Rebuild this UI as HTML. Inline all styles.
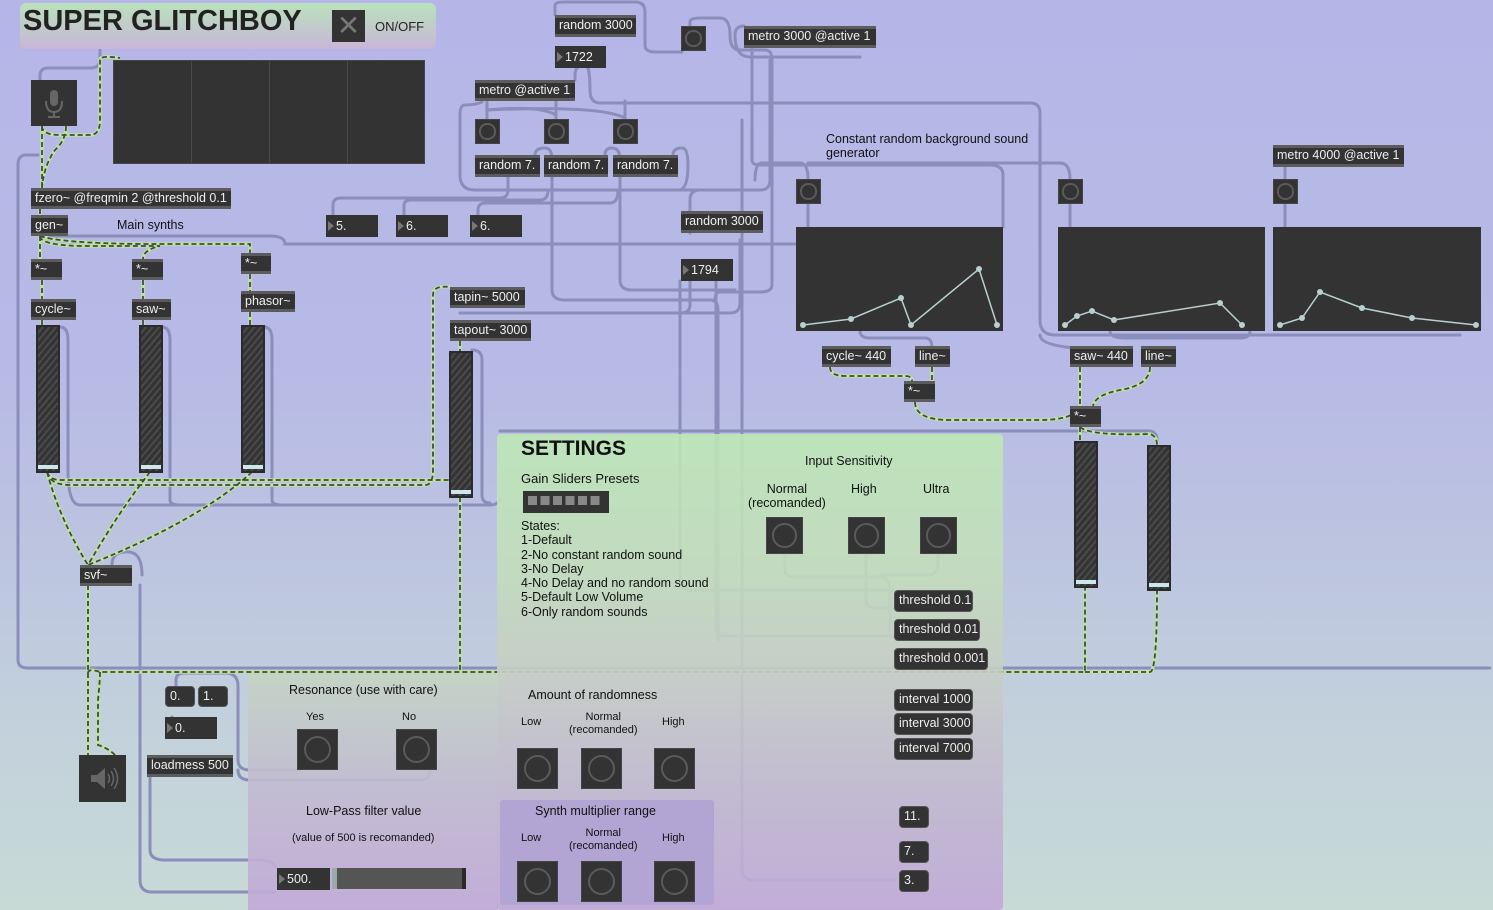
<!DOCTYPE html>
<html><head><meta charset="utf-8"><style>
*{margin:0;padding:0;box-sizing:border-box}
body{width:1493px;height:910px;overflow:hidden;position:relative;font-family:"Liberation Sans",sans-serif;
background:linear-gradient(to bottom,#b5b6e7 0%,#b7bae6 40%,#bcc4e0 60%,#c2d0dc 78%,#c7dad6 100%)}
.a{position:absolute}
.o{position:absolute;background:#333;color:#eee;font-size:12.5px;line-height:15px;border-top:3px solid #5c5c5c;border-bottom:3px solid #5c5c5c;padding-left:4px;white-space:nowrap}
.m{position:absolute;background:#333;color:#eee;font-size:12.5px;border-radius:4px;border:1px solid #555;padding-left:4px;white-space:nowrap;line-height:19px}
.n{position:absolute;background:#333;color:#eee;font-size:12.5px;padding-left:2px;white-space:nowrap;line-height:22px}
.n:before{content:"";display:inline-block;width:0;height:0;border-left:6px solid #777;border-top:5px solid transparent;border-bottom:5px solid transparent;margin-right:2px;vertical-align:-1px}
.b{position:absolute;background:#333;border:1px solid #444}
.b:after{content:"";position:absolute;left:15%;top:15%;width:70%;height:70%;border-radius:50%;border:2px solid #5a5a5a;box-sizing:border-box}
.s{position:absolute;border:2px solid #2b2b2b;background:repeating-linear-gradient(-50deg,#333 0 3px,#4a4a4a 3px 5px)}
.s:after{content:"";position:absolute;left:0;right:0;bottom:2px;height:4px;background:#cde8ea}
.t{position:absolute;color:#111;font-size:12.5px;white-space:nowrap}
.g{position:absolute;background:#333}
</style></head><body>

<svg class="a" style="left:0;top:0" width="1493" height="910">
<g fill="none" stroke="#8b8eba" stroke-width="3" stroke-linecap="round">
<path d="M100,50 V60 Q100,68 90,68 H48 Q40,68 40,76 V80"/>
<path d="M38,155 H26 Q18,155 18,165 V660 Q18,668 28,668 H1490"/>
<path d="M40,236 H270 Q285,236 285,244 H1000"/>
<path d="M333,215 V205 Q333,198 341,198 H500 Q508,198 508,190 V176"/>
<path d="M404,215 V205 Q404,200 412,200 H540 Q548,200 548,190"/>
<path d="M478,215 V210 Q478,203 486,203 H610 Q618,203 618,190"/>
<path d="M60,327 Q68,327 68,340 V470 Q68,505 80,505 H490 Q497,505 500,500"/>
<path d="M162,327 Q170,327 170,340 V500 Q170,505 180,505"/>
<path d="M264,327 Q272,327 272,340 V500 Q272,505 282,505"/>
<path d="M472,350 Q482,350 482,360 V495 Q482,503 490,503"/>
<path d="M460,313 H730 Q740,313 740,303 V240"/>
<path d="M575,80 V75 Q575,65 585,65 Q590,65 590,90 Q590,103 600,103 H1030 Q1040,103 1040,113 V320 Q1040,335 1055,335 H1460"/>
<path d="M555,15 V5 Q555,2 565,2 H635 Q645,2 645,12 V45 Q645,52 655,52 H682"/>
<path d="M690,26 V22 Q690,18 700,18 H720 Q730,18 730,35 Q730,50 740,50 H765 Q772,50 772,60 V285 Q772,292 760,292 H720 Q715,292 715,300"/>
<path d="M744,26 Q735,26 735,35 Q735,57 750,57 H860"/>
<path d="M752,48 V160 Q752,165 760,165 H990 Q1003,165 1003,175 V227"/>
<path d="M482,102 Q475,105 465,105 Q460,105 460,115 V175 Q460,190 475,190 H760 Q770,190 770,180 V60"/>
<path d="M487,101 V119"/><path d="M556,101 V119"/><path d="M625,101 V119"/>
<path d="M487,110 Q540,105 556,115"/><path d="M487,110 Q600,105 625,118"/>
<path d="M535,155 Q535,148 545,148 Q552,148 552,160 V290 Q552,300 565,300 H710 Q718,300 718,310 V640"/>
<path d="M605,155 Q605,148 612,148 Q620,148 620,160 V280 Q620,290 632,290 H735"/>
<path d="M673,155 Q673,148 682,148 Q688,148 688,165 Q688,188 680,190"/>
<path d="M690,233 V200 Q690,190 700,190"/>
<path d="M690,281 V305 Q690,313 680,313"/>
<path d="M680,281 V580 Q680,590 690,590 H894"/>
<path d="M716,281 V628 Q716,636 726,636 H894"/>
<path d="M742,120 V870 Q742,880 755,880 H894"/>
<path d="M755,180 Q755,163 762,163 H800 Q808,163 808,179"/>
<path d="M808,163 H1060 Q1070,163 1070,179"/>
<path d="M808,204 V227"/><path d="M1070,204 V227"/><path d="M1285,167 V227"/>
<path d="M860,331 Q860,338 870,338 H925 Q932,338 932,348"/>
<path d="M1110,331 Q1110,338 1125,338 H1240 Q1250,338 1250,331"/>
<path d="M1040,335 Q1040,345 1075,348"/>
<path d="M500,431 H1148 Q1157,431 1157,440"/>
<path d="M785,553 V570 Q785,577 795,577 H880 Q890,577 890,590 V630"/>
<path d="M866,553 V600 Q866,608 876,608 H894"/>
<path d="M938,553 V565 Q938,575 928,575 H880"/>
<path d="M150,777 V850 Q150,860 165,860 H260 Q275,860 275,868"/>
<path d="M142,575 Q142,550 125,552 Q112,552 112,565"/>
<path d="M140,585 V880 Q140,892 152,892 H275"/>
<path d="M176,686 V680 Q176,673 185,673 H225 Q238,673 238,686 V760 Q238,770 250,770 H300"/>
<path d="M172,717 Q172,730 185,730 H205"/>
<path d="M238,770 Q238,780 250,780 H420 Q430,780 430,770"/>
</g>
<g fill="none" stroke-linecap="butt">
<g stroke="#bfe39a" stroke-width="3.5">
<path id="d1" d="M42,126 V188 M66,126 Q66,140 55,150 Q44,165 42,188 M42,126 Q42,135 60,135 H90 Q100,135 100,120 V60 Q100,55 120,58 M40,209 V215 M40,236 V259 M40,236 Q40,245 80,246 H160 Q143,250 143,259 M40,236 Q60,243 140,244 H250 V253 M42,280 V299 M143,280 V299 M250,274 V291 M42,320 V325 M143,320 V325 M250,312 V325 M47,472 Q50,485 70,485 H425 Q433,485 433,470 V295 Q433,285 450,287 M47,472 Q60,520 88,565 M150,472 Q120,510 88,565 M252,472 Q200,520 88,565 M47,472 Q50,480 60,480 H470 M460,341 V351 M460,497 V673 M88,585 V755 M88,673 Q88,668 100,672 H1085 V587 M100,672 Q100,680 98,700 V745 Q108,748 115,755 M1085,672 H1150 Q1157,672 1157,590 M830,367 Q830,376 845,376 H905 Q912,376 912,381 M932,367 V381 M915,402 Q915,420 950,420 H1040 Q1075,420 1080,406 M1080,367 V406 M1150,367 Q1150,385 1120,390 Q1095,395 1093,406 M1080,427 V440 M1080,427 Q1090,436 1150,434 Q1157,436 1157,445"/>
</g>
<g stroke="#3d4a4a" stroke-width="1.8" stroke-dasharray="5 3">
<use href="#d1"/>
</g>
</g>
</svg>

<!-- panels -->
<div class="a" style="left:20px;top:3px;width:416px;height:46px;border-radius:6px;background:linear-gradient(#b9e2bb,#c9b6d8)"></div>
<div class="a" style="left:497px;top:434px;width:506px;height:476px;border-radius:4px;opacity:.9;background:linear-gradient(#bde8b6 0%,#c3dcbc 30%,#c7ccc6 52%,#c2b8d0 75%,#c1a8d8 100%)"></div>
<div class="a" style="left:248px;top:674px;width:250px;height:236px;opacity:.9;background:linear-gradient(#c4d4c4 0%,#c2bcd0 45%,#c1a8d8 100%)"></div>
<div class="a" style="left:500px;top:800px;width:214px;height:105px;border-radius:3px;background:#b0a3d4;opacity:.9"></div>

<!-- title -->
<div class="t" style="left:23px;top:5px;font-size:29px;font-weight:bold;color:#222">SUPER GLITCHBOY</div>
<div class="g" style="left:332px;top:10px;width:33px;height:32px;color:#777;font-size:28px;text-align:center;line-height:31px">✕</div>
<div class="t" style="left:375px;top:19px;font-size:13px;color:#222">ON/OFF</div>

<div class="g" style="left:31px;top:80px;width:46px;height:46px"><svg width="46" height="46"><g fill="#666"><rect x="19" y="10" width="8" height="16" rx="4"/><path d="M15,21 Q15,32 23,32 Q31,32 31,21" fill="none" stroke="#666" stroke-width="2"/><rect x="22" y="32" width="2" height="4"/><rect x="17" y="36" width="12" height="2"/></g></svg></div>
<div class="g" style="left:113px;top:60px;width:312px;height:104px;border:1px solid #444"><div class="a" style="left:77px;top:0;width:1px;height:102px;background:#4a4a4a"></div><div class="a" style="left:155px;top:0;width:1px;height:102px;background:#4a4a4a"></div><div class="a" style="left:233px;top:0;width:1px;height:102px;background:#4a4a4a"></div></div>

<div class="o" style="left:31px;top:188px;width:200px;height:21px">fzero~ @freqmin 2 @threshold 0.1</div>
<div class="o" style="left:31px;top:215px;width:37px;height:21px">gen~</div>
<div class="t" style="left:117px;top:218px">Main synths</div>
<div class="n" style="left:326px;top:215px;width:52px;height:22px">5.</div>
<div class="n" style="left:396px;top:215px;width:52px;height:22px">6.</div>
<div class="n" style="left:470px;top:215px;width:52px;height:22px">6.</div>
<div class="o" style="left:31px;top:259px;width:31px;height:21px">*~</div>
<div class="o" style="left:132px;top:259px;width:31px;height:21px">*~</div>
<div class="o" style="left:241px;top:253px;width:30px;height:21px">*~</div>
<div class="o" style="left:31px;top:299px;width:45px;height:21px">cycle~</div>
<div class="o" style="left:132px;top:299px;width:39px;height:21px">saw~</div>
<div class="o" style="left:241px;top:291px;width:54px;height:21px">phasor~</div>
<div class="s" style="left:36px;top:325px;width:24px;height:148px"></div>
<div class="s" style="left:139px;top:325px;width:24px;height:148px"></div>
<div class="s" style="left:241px;top:325px;width:24px;height:148px"></div>
<div class="o" style="left:450px;top:287px;width:75px;height:21px">tapin~ 5000</div>
<div class="o" style="left:450px;top:320px;width:81px;height:21px">tapout~ 3000</div>
<div class="s" style="left:449px;top:351px;width:24px;height:147px"></div>
<div class="o" style="left:80px;top:565px;width:52px;height:21px">svf~</div>

<div class="m" style="left:165px;top:686px;width:30px;height:21px">0.</div>
<div class="m" style="left:198px;top:686px;width:30px;height:21px">1.</div>
<div class="n" style="left:165px;top:717px;width:52px;height:22px">0.</div>
<div class="o" style="left:147px;top:755px;width:86px;height:22px">loadmess 500</div>
<div class="g" style="left:79px;top:755px;width:47px;height:47px"><svg width="47" height="47"><path d="M12,20 H18 L26,13 V34 L18,27 H12 Z" fill="#666"/><path d="M29,19 Q32,23.5 29,28 M32,16 Q37,23.5 32,31 M35,13 Q42,23.5 35,34" fill="none" stroke="#666" stroke-width="1.5"/></svg></div>

<!-- top middle -->
<div class="o" style="left:555px;top:15px;width:81px;height:22px">random 3000</div>
<div class="n" style="left:555px;top:46px;width:51px;height:22px">1722</div>
<div class="o" style="left:475px;top:80px;width:100px;height:21px">metro @active 1</div>
<div class="b" style="left:475px;top:119px;width:25px;height:25px"></div>
<div class="b" style="left:544px;top:119px;width:25px;height:25px"></div>
<div class="b" style="left:613px;top:119px;width:25px;height:25px"></div>
<div class="o" style="left:475px;top:155px;width:65px;height:22px">random 7.</div>
<div class="o" style="left:544px;top:155px;width:64px;height:22px">random 7.</div>
<div class="o" style="left:613px;top:155px;width:65px;height:22px">random 7.</div>
<div class="b" style="left:681px;top:26px;width:25px;height:25px"></div>
<div class="o" style="left:744px;top:26px;width:132px;height:22px">metro 3000 @active 1</div>
<div class="o" style="left:681px;top:211px;width:82px;height:22px">random 3000</div>
<div class="n" style="left:681px;top:259px;width:52px;height:22px">1794</div>

<!-- right -->
<div class="t" style="left:826px;top:132px;line-height:14px">Constant random background sound<br>generator</div>
<div class="b" style="left:796px;top:179px;width:25px;height:25px"></div>
<div class="b" style="left:1058px;top:179px;width:25px;height:25px"></div>
<div class="b" style="left:1273px;top:179px;width:25px;height:25px"></div>
<div class="o" style="left:1273px;top:145px;width:131px;height:22px">metro 4000 @active 1</div>
<svg class="a" style="left:796px;top:227px" width="686" height="105">
<rect x="0" y="0" width="207" height="104" fill="#333"/>
<rect x="262" y="0" width="207" height="104" fill="#333"/>
<rect x="477" y="0" width="208" height="104" fill="#333"/>
<g fill="none" stroke="#b8d0d0" stroke-width="1.5">
<polyline points="7,98 55,92 105,71 115,98 183,42 201,98"/>
<polyline points="269,98 281,89 296,84 318,93 424,76 446,98"/>
<polyline points="484,98 506,91 524,65 566,81 616,91 680,98"/>
</g>
<g fill="#b8d0d0">
<circle cx="7" cy="98" r="3"/><circle cx="55" cy="92" r="3"/><circle cx="105" cy="71" r="3"/><circle cx="115" cy="98" r="3"/><circle cx="183" cy="42" r="3"/><circle cx="201" cy="98" r="3"/>
<circle cx="269" cy="98" r="3"/><circle cx="281" cy="89" r="3"/><circle cx="296" cy="84" r="3"/><circle cx="318" cy="93" r="3"/><circle cx="424" cy="76" r="3"/><circle cx="446" cy="98" r="3"/>
<circle cx="484" cy="98" r="3"/><circle cx="506" cy="91" r="3"/><circle cx="524" cy="65" r="3"/><circle cx="566" cy="81" r="3"/><circle cx="616" cy="91" r="3"/><circle cx="680" cy="98" r="3"/>
</g></svg>
<div class="o" style="left:822px;top:346px;width:69px;height:21px">cycle~ 440</div>
<div class="o" style="left:915px;top:346px;width:35px;height:21px">line~</div>
<div class="o" style="left:904px;top:381px;width:31px;height:21px">*~</div>
<div class="o" style="left:1070px;top:346px;width:63px;height:21px">saw~ 440</div>
<div class="o" style="left:1141px;top:346px;width:35px;height:21px">line~</div>
<div class="o" style="left:1070px;top:406px;width:31px;height:21px">*~</div>
<div class="s" style="left:1074px;top:441px;width:24px;height:147px"></div>
<div class="s" style="left:1147px;top:445px;width:24px;height:146px"></div>

<!-- settings -->
<div class="t" style="left:521px;top:437px;font-size:21px;font-weight:bold">SETTINGS</div>
<div class="t" style="left:521px;top:471px;font-size:13px">Gain Sliders Presets</div>
<div class="g" style="left:523px;top:491px;width:86px;height:22px"><div style="position:absolute;left:5px;top:5px;width:72px;height:9px;background:repeating-linear-gradient(90deg,#888 0 9px,transparent 9px 12.5px)"></div></div>
<div class="t" style="left:521px;top:519px;font-size:12.5px;line-height:14.3px">States:<br>1-Default<br>2-No constant random sound<br>3-No Delay<br>4-No Delay and no random sound<br>5-Default Low Volume<br>6-Only random sounds</div>
<div class="t" style="left:805px;top:454px">Input Sensitivity</div>
<div class="t" style="left:748px;top:482px;text-align:center;line-height:14px">Normal<br>(recomanded)</div>
<div class="t" style="left:851px;top:482px">High</div>
<div class="t" style="left:923px;top:482px">Ultra</div>
<div class="b" style="left:766px;top:517px;width:37px;height:37px"></div>
<div class="b" style="left:848px;top:517px;width:37px;height:37px"></div>
<div class="b" style="left:920px;top:517px;width:37px;height:37px"></div>
<div class="m" style="left:894px;top:590px;width:79px;height:22px">threshold 0.1</div>
<div class="m" style="left:894px;top:619px;width:86px;height:22px">threshold 0.01</div>
<div class="m" style="left:894px;top:648px;width:94px;height:22px">threshold 0.001</div>
<div class="m" style="left:894px;top:689px;width:79px;height:22px">interval 1000</div>
<div class="m" style="left:894px;top:713px;width:79px;height:22px">interval 3000</div>
<div class="m" style="left:894px;top:738px;width:79px;height:22px">interval 7000</div>
<div class="t" style="left:528px;top:688px">Amount of randomness</div>
<div class="t" style="left:521px;top:716px;font-size:11px">Low</div>
<div class="t" style="left:569px;top:711px;font-size:11px;text-align:center;line-height:13px">Normal<br>(recomanded)</div>
<div class="t" style="left:662px;top:716px;font-size:11px">High</div>
<div class="b" style="left:517px;top:748px;width:41px;height:41px"></div>
<div class="b" style="left:581px;top:748px;width:41px;height:41px"></div>
<div class="b" style="left:654px;top:748px;width:41px;height:41px"></div>
<div class="t" style="left:535px;top:804px">Synth multiplier range</div>
<div class="t" style="left:521px;top:832px;font-size:11px">Low</div>
<div class="t" style="left:569px;top:827px;font-size:11px;text-align:center;line-height:13px">Normal<br>(recomanded)</div>
<div class="t" style="left:662px;top:832px;font-size:11px">High</div>
<div class="b" style="left:517px;top:861px;width:41px;height:41px"></div>
<div class="b" style="left:581px;top:861px;width:41px;height:41px"></div>
<div class="b" style="left:654px;top:861px;width:41px;height:41px"></div>
<div class="m" style="left:899px;top:806px;width:30px;height:22px">11.</div>
<div class="m" style="left:899px;top:841px;width:30px;height:22px">7.</div>
<div class="m" style="left:899px;top:870px;width:30px;height:22px">3.</div>

<div class="t" style="left:289px;top:683px">Resonance (use with care)</div>
<div class="t" style="left:306px;top:711px;font-size:11px">Yes</div>
<div class="t" style="left:402px;top:711px;font-size:11px">No</div>
<div class="b" style="left:297px;top:729px;width:41px;height:41px"></div>
<div class="b" style="left:396px;top:729px;width:41px;height:41px"></div>
<div class="t" style="left:306px;top:804px">Low-Pass filter value</div>
<div class="t" style="left:292px;top:832px;font-size:11px">(value of 500 is recomanded)</div>
<div class="n" style="left:277px;top:868px;width:53px;height:22px">500.</div>
<div class="a" style="left:332px;top:868px;width:5px;height:21px;background:#9aa"></div>
<div class="a" style="left:337px;top:868px;width:129px;height:21px;background:#555;border-right:4px solid #2a2a2a"></div>
</body></html>
